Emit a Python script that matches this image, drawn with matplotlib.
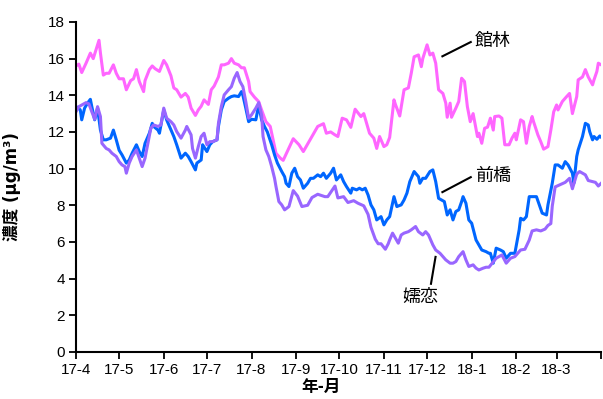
import numpy as np
import matplotlib
matplotlib.use("Agg")
import matplotlib.pyplot as plt

# Daily PM2.5 moving averages, April 2017 - March 2018.
# Day offsets are counted from 2017-04-01.
start = np.datetime64("2017-04-01")

tatebayashi_days = [0, 2, 4, 7, 10, 12, 14, 16, 17, 19, 21, 23, 26, 28, 30, 33, 35, 38, 40, 42,
                    44, 47, 48, 51, 53, 55, 58, 61, 63, 66, 68, 70, 73, 76, 78, 80, 83, 85, 87, 89,
                    92, 94, 96, 99, 101, 103, 106, 108, 110, 113, 115, 117, 120, 121, 124, 127, 129, 132, 135, 137,
                    139, 142, 144, 151, 155, 158, 164, 168, 172, 174, 177, 180, 182, 185, 188, 191, 194, 198, 200, 204,
                    207, 209, 211, 214, 216, 218, 221, 222, 225, 228, 231, 233, 235, 238, 240, 241, 244, 246, 248, 250,
                    252, 255, 257, 258, 260, 261, 264, 266, 268, 270, 272, 274, 276, 279, 280, 282, 284, 286, 288, 290,
                    291, 294, 296, 298, 301, 303, 305, 306, 309, 311, 313, 315, 317, 318, 321, 323, 325, 328, 330, 332,
                    334, 335, 338, 341, 343, 345, 348, 349, 352, 354, 356, 359, 360, 362, 363, 365]
tatebayashi = [15.6, 15.7, 15.24, 15.75, 16.3, 16.0, 16.5, 17.0, 16.3, 15.1, 15.2, 15.2, 15.66, 15.2, 14.9, 14.9, 14.3, 14.8, 14.9, 15.4,
               14.75, 14.2, 14.8, 15.4, 15.6, 15.45, 15.3, 15.9, 15.66, 15.06, 14.4, 14.3, 13.9, 14.1, 13.9, 13.3, 12.9, 13.2, 13.4, 13.75,
               13.5, 14.3, 14.5, 15.0, 15.66, 15.66, 15.75, 16.0, 15.75, 15.66, 15.5, 15.5, 14.75, 14.2, 13.9, 13.65, 13.2, 12.56, 12.3, 11.57,
               10.84, 10.57, 10.45, 11.63, 11.3, 10.93, 11.75, 12.3, 12.45, 11.93, 12.0, 11.84, 11.75, 12.75, 12.66, 12.25, 13.24, 12.84, 13.0, 11.93,
               11.66, 11.1, 11.75, 11.2, 11.3, 11.7, 13.75, 13.5, 12.87, 14.3, 14.4, 15.2, 16.1, 16.2, 15.56, 16.0, 16.75, 16.2, 16.3, 15.75,
               14.3, 14.1, 13.57, 12.8, 13.57, 12.8, 13.3, 13.66, 14.93, 14.75, 13.38, 12.56, 13.0, 11.75, 11.93, 11.38, 12.2, 12.26, 12.75, 12.1,
               12.84, 12.87, 12.75, 11.3, 11.3, 11.66, 11.93, 11.57, 12.66, 12.56, 11.38, 12.3, 12.84, 12.56, 11.84, 11.47, 11.06, 11.2, 12.1, 13.1,
               13.47, 13.2, 13.66, 13.93, 14.1, 13.0, 13.93, 14.84, 15.0, 15.4, 15.0, 14.57, 14.84, 15.3, 15.75, 15.66]

maebashi_days = [0, 1, 3, 4, 6, 8, 10, 11, 13, 15, 17, 19, 21, 24, 26, 28, 30, 32, 35, 37,
                 39, 42, 44, 46, 48, 51, 53, 54, 57, 58, 61, 63, 65, 68, 70, 73, 76, 78, 80, 83,
                 84, 87, 88, 91, 93, 95, 98, 99, 101, 103, 106, 108, 110, 113, 115, 116, 118, 120, 122, 125,
                 127, 129, 131, 133, 136, 138, 140, 143, 145, 146, 148, 150, 152, 154, 156, 158, 161, 163, 165, 168,
                 170, 172, 174, 177, 179, 181, 184, 186, 188, 191, 192, 195, 197, 199, 201, 203, 205, 207, 209, 212,
                 214, 216, 218, 220, 221, 223, 226, 228, 230, 232, 235, 238, 239, 241, 243, 246, 248, 250, 252, 254,
                 256, 258, 260, 262, 264, 266, 268, 269, 271, 273, 275, 278, 280, 282, 285, 287, 288, 290, 292, 295,
                 297, 299, 302, 305, 308, 309, 311, 313, 315, 317, 320, 322, 324, 327, 328, 331, 333, 335, 338, 340,
                 342, 345, 346, 348, 349, 352, 354, 356, 357, 359, 360, 362, 364, 365]
maebashi = [13.2, 13.35, 13.2, 12.66, 13.3, 13.57, 13.78, 13.38, 12.66, 13.3, 12.1, 11.57, 11.57, 11.66, 12.1, 11.57, 11.0, 10.75, 10.3, 10.47,
            10.84, 11.3, 10.93, 10.66, 11.38, 11.93, 12.47, 12.3, 12.1, 11.93, 13.2, 12.66, 12.3, 11.75, 11.3, 10.57, 10.84, 10.66, 10.38, 9.93,
            10.3, 10.47, 11.3, 10.93, 11.3, 11.47, 11.57, 12.3, 13.2, 13.66, 13.84, 13.93, 13.97, 13.93, 14.2, 14.0, 13.3, 12.56, 12.69, 12.66,
            13.47, 12.66, 12.3, 12.0, 11.3, 10.75, 10.3, 9.84, 9.56, 9.2, 9.02, 9.75, 10.02, 9.56, 9.38, 8.93, 9.2, 9.47, 9.47, 9.66,
            9.56, 9.75, 9.47, 9.75, 10.02, 9.38, 9.66, 9.29, 9.02, 8.66, 8.93, 8.84, 8.93, 8.84, 8.93, 8.56, 8.02, 7.75, 7.2, 7.38,
            6.93, 7.2, 7.38, 8.11, 8.47, 7.93, 8.02, 8.29, 8.66, 9.29, 9.84, 9.56, 9.2, 9.47, 9.47, 9.84, 9.93, 9.29, 8.38, 8.29,
            8.2, 7.47, 7.75, 7.2, 7.66, 7.75, 8.2, 8.47, 8.11, 7.2, 7.02, 6.11, 5.84, 5.56, 5.47, 5.38, 5.38, 4.84, 5.66, 5.56,
            5.47, 5.11, 5.38, 5.38, 6.66, 7.29, 7.2, 7.38, 8.47, 8.47, 8.47, 8.02, 7.57, 7.47, 8.02, 9.2, 10.2, 10.2, 10.02, 10.38,
            10.2, 9.75, 9.2, 10.66, 11.02, 11.75, 12.47, 12.38, 12.02, 11.57, 11.75, 11.6, 11.78, 11.71]

tsumagoi_days = [0, 2, 4, 7, 9, 11, 13, 15, 17, 18, 21, 23, 25, 28, 30, 32, 34, 35, 37, 39,
                 42, 44, 46, 48, 50, 52, 54, 57, 59, 61, 63, 66, 68, 70, 73, 76, 77, 80, 81, 83,
                 85, 87, 89, 91, 93, 95, 98, 99, 101, 103, 106, 108, 110, 112, 114, 116, 118, 120, 122, 125,
                 127, 129, 130, 132, 134, 136, 138, 139, 141, 143, 145, 148, 151, 154, 157, 161, 164, 168, 173, 175,
                 180, 182, 186, 189, 193, 196, 200, 203, 205, 208, 210, 212, 215, 217, 218, 220, 222, 224, 226, 228,
                 231, 233, 236, 238, 241, 243, 245, 248, 250, 253, 255, 257, 260, 262, 264, 266, 269, 271, 273, 276,
                 278, 280, 283, 285, 287, 292, 296, 299, 302, 305, 309, 312, 315, 317, 320, 323, 326, 328, 330, 331,
                 333, 336, 340, 343, 345, 348, 350, 354, 356, 359, 361, 363, 365]
tsumagoi = [13.1, 13.38, 13.47, 13.6, 13.53, 13.1, 12.69, 13.38, 12.84, 11.38, 11.1, 11.02, 10.84, 10.66, 10.38, 10.2, 10.11, 9.75, 10.3, 10.66,
            11.02, 10.57, 10.11, 10.57, 11.38, 12.2, 12.38, 12.3, 12.38, 13.3, 12.75, 12.56, 12.38, 12.02, 11.66, 12.1, 12.3, 11.84, 11.1, 10.57,
            11.2, 11.75, 11.93, 11.3, 11.47, 11.47, 11.57, 12.47, 13.38, 14.02, 14.3, 14.47, 14.93, 15.24, 14.75, 14.47, 13.66, 12.75, 12.93, 13.3,
            13.6, 12.93, 11.75, 11.02, 10.66, 10.11, 9.47, 9.02, 8.2, 8.02, 7.75, 7.93, 8.8, 8.5, 7.93, 8.0, 8.42, 8.6, 8.47, 8.47,
            9.05, 8.4, 8.47, 8.15, 8.25, 8.11, 7.97, 7.5, 6.8, 6.15, 5.9, 5.9, 5.6, 5.9, 6.11, 6.48, 6.2, 5.93, 6.38, 6.48,
            6.56, 6.66, 6.84, 6.56, 6.38, 6.56, 6.38, 5.84, 5.56, 5.38, 5.2, 5.02, 4.84, 4.84, 4.93, 5.2, 5.47, 5.02, 4.66, 4.75,
            4.57, 4.47, 4.57, 4.62, 4.62, 5.11, 5.29, 4.84, 5.11, 5.2, 5.56, 5.6, 6.1, 6.6, 6.66, 6.6, 6.7, 6.9, 7.0, 7.95,
            9.0, 9.11, 9.25, 9.47, 8.9, 9.7, 9.84, 9.66, 9.35, 9.29, 9.25, 9.05, 9.2]

month_starts = ["2017-04-01", "2017-05-01", "2017-06-01", "2017-07-01", "2017-08-01", "2017-09-01",
                "2017-10-01", "2017-11-01", "2017-12-01", "2018-01-01", "2018-02-01", "2018-03-01",
                "2018-04-01"]
month_labels = ["17-4", "17-5", "17-6", "17-7", "17-8", "17-9", "17-10", "17-11", "17-12",
                "18-1", "18-2", "18-3", ""]

latin = ["Liberation Sans", "Noto Sans CJK JP", "DejaVu Sans"]
cjk = ["Noto Sans CJK JP", "DejaVu Sans"]
unit_font = ["DejaVu Sans", "Noto Sans CJK JP"]
plt.rcParams["font.family"] = latin


def to_dates(days):
    return start + np.array(days, dtype="timedelta64[D]")


def day(n):
    # fractional day offset -> datetime64 (hour resolution)
    return start + np.timedelta64(int(round(n * 24)), "h")


fig = plt.figure(figsize=(6.03, 3.99), dpi=100)
ax = fig.add_axes([0.126, 0.118, 0.871, 0.827])

ax.plot(to_dates(tatebayashi_days), tatebayashi, color="#FF66FF", lw=2.2, solid_joinstyle="round")
ax.plot(to_dates(maebashi_days), maebashi, color="#0066FF", lw=2.2, solid_joinstyle="round")
ax.plot(to_dates(tsumagoi_days), tsumagoi, color="#9966FF", lw=2.2, solid_joinstyle="round")

ticks = np.array(month_starts, dtype="datetime64[D]")
ax.set_xlim(ticks[0], ticks[-1])
ax.set_xticks(ticks)
ax.set_xticklabels(month_labels)
ax.set_ylim(0, 18)
ax.set_yticks(range(0, 19, 2))

for side in ("top", "right"):
    ax.spines[side].set_visible(False)
for side in ("left", "bottom"):
    ax.spines[side].set_linewidth(1.5)
ax.tick_params(axis="both", direction="out", length=5, width=1.3, labelsize=11, pad=3)

ax.set_ylabel("濃度 (μg/m³)", fontsize=12, fontweight="bold", family=unit_font)
ax.yaxis.set_label_coords(-0.105, 0.5)
ax.set_xlabel("年-月", fontsize=12, fontweight="bold", family=cjk)
ax.xaxis.set_label_coords(0.467, -0.08)

# Station labels with leader lines
leader = dict(color="black", lw=1.5, solid_capstyle="butt")
ax.plot([day(254), day(275)], [16.1, 16.93], **leader)
ax.text(day(277), 16.97, "館林", fontsize=13, family=cjk, ha="left", va="center")
ax.plot([day(254), day(275)], [8.69, 9.56], **leader)
ax.text(day(277), 9.6, "前橋", fontsize=13, family=cjk, ha="left", va="center")
ax.plot([day(250), day(246.6)], [5.24, 3.66], **leader)
ax.text(day(239), 3.0, "嬬恋", fontsize=13, family=cjk, ha="center", va="center")

fig.savefig("out.png", dpi=100)
